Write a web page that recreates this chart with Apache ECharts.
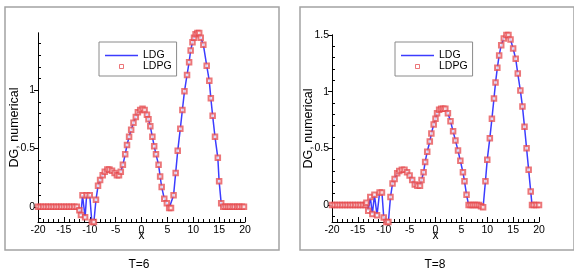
<!DOCTYPE html>
<html>
<head>
<meta charset="utf-8">
<script src="https://cdn.jsdelivr.net/npm/echarts@6/dist/echarts.min.js"></script>
<style>
  html, body { margin: 0; padding: 0; background: #fff; }
  #chart { width: 574px; height: 272px; }
</style>
</head>
<body>
<div id="chart"></div>
<script>
// T=6 panel, x positions and DG values (LDG line and LDPG squares lie on top of each other)
const xT6 = [-20, -19.5, -19, -18.5, -18, -17.5, -17, -16.5, -16, -15.5, -15, -14.5, -14, -13.5, -13, -12.5,
  -12.0, -11.7, -11.4, -10.9, -10.6, -10.0, -9.6, -9.2,
  -8.8, -8.4, -8.0, -7.5, -7.1, -6.6, -6.2, -5.7, -5.2, -4.75,
  -4.35, -4.0, -3.6, -3.15, -2.8, -2.4, -2.0, -1.55, -1.1, -0.7,
  -0.25, 0.2, 0.6, 1.05, 1.35, 1.7, 2.1, 2.45, 2.8, 3.3,
  3.6, 3.9, 4.4, 4.9, 5.35, 5.7, 6.2, 6.6, 7.0, 7.5,
  7.9, 8.3, 8.8, 9.2, 9.5, 9.85, 10.15, 10.45, 10.8, 11.15,
  11.45, 11.95, 12.6, 13.1, 13.4, 13.75, 14.2, 14.75, 15.0, 15.4,
  15.8, 16.25, 16.7, 17.1, 17.6, 18.0, 18.5, 18.9, 19.4, 19.8];
const yT6 = [0, 0, 0, 0, 0, 0, 0, 0, 0, 0, 0, 0, 0, 0, 0, 0,
  -0.03, -0.07, 0.10, -0.09, 0.10, 0.10, -0.13, -0.13,
  0.06, 0.18, 0.23, 0.27, 0.30, 0.32, 0.32, 0.31, 0.29, 0.27,
  0.27, 0.30, 0.36, 0.45, 0.53, 0.60, 0.66, 0.72, 0.77, 0.81,
  0.83, 0.84, 0.83, 0.79, 0.75, 0.69, 0.60, 0.52, 0.45, 0.36,
  0.26, 0.17, 0.07, 0.03, -0.01, -0.01, 0.10, 0.29, 0.48, 0.67,
  0.83, 0.99, 1.13, 1.24, 1.34, 1.41, 1.45, 1.48, 1.49, 1.49,
  1.45, 1.39, 1.21, 1.08, 0.93, 0.78, 0.60, 0.42, 0.22, 0.03,
  0, 0, 0, 0, 0, 0, 0, 0, 0, 0];

// T=8 panel
const xT8 = [-20, -19.5, -19, -18.5, -18, -17.5, -17, -16.5, -16, -15.5, -15, -14.5, -14, -13.5,
  -13.35, -13.0, -12.6, -12.2, -11.8, -11.3, -10.8, -10.35, -10.0, -9.5, -9.1,
  -8.7, -8.3, -7.9, -7.4, -7.0, -6.5, -6.0, -5.5, -5.0, -4.5,
  -4.0, -3.5, -3.0, -2.7, -2.3, -2.0, -1.6, -1.1, -0.8, -0.35,
  0.0, 0.3, 0.7, 1.1, 1.5, 1.9, 2.4, 2.9, 3.4, 3.85,
  4.35, 4.8, 5.3, 5.6, 6.0, 6.4, 6.8, 7.2, 7.6, 8.0,
  8.4, 8.8, 9.2, 9.65, 10.0, 10.5, 10.9, 11.3, 11.6, 11.95,
  12.3, 12.7, 13.2, 13.7, 14.1, 14.5, 15.0, 15.5, 15.9, 16.4,
  16.8, 17.2, 17.6, 18.0, 18.4, 18.65, 19.0, 19.5, 20];
const yT8 = [0, 0, 0, 0, 0, 0, 0, 0, 0, 0, 0, 0, 0, 0,
  0.02, -0.05, 0.07, -0.08, 0.09, -0.09, 0.11, 0.11, -0.11, -0.15, -0.15,
  0.07, 0.19, 0.23, 0.28, 0.30, 0.31, 0.31, 0.29, 0.26, 0.22,
  0.18, 0.17, 0.17, 0.22, 0.29, 0.38, 0.47, 0.56, 0.63, 0.71,
  0.76, 0.81, 0.84, 0.85, 0.85, 0.85, 0.81, 0.74, 0.65, 0.57,
  0.48, 0.39, 0.29, 0.21, 0.09, 0.0, 0, 0, 0, 0,
  0, -0.01, -0.02, 0.21, 0.40, 0.59, 0.76, 0.94, 1.08, 1.21,
  1.32, 1.41, 1.47, 1.50, 1.50, 1.46, 1.38, 1.29, 1.16, 1.01,
  0.87, 0.69, 0.50, 0.31, 0.12, 0.0, 0, 0, 0];

const titles = ['T=6', 'T=8'];
const seriesNames = ['LDG', 'LDPG'];
const majorY6 = [0, 0.5, 1];
const majorY8 = [0, 0.5, 1, 1.5];

const FONT = '"Liberation Sans", Arial, Helvetica, sans-serif';
const BLUE = '#3c3cff';
const RED = '#e5484c';

function pairs(xs, ys) {
  return xs.map((x, i) => [x, ys[i]]);
}
function minorList(lo, hi, majors) {
  const out = [];
  for (let k = Math.ceil(lo * 10); k <= Math.floor(hi * 10); k++) {
    const v = k / 10;
    if (!majors.some(m => Math.abs(m - v) < 1e-6)) out.push(v);
  }
  return out;
}

const panels = [
  {left: 38, top: 33, height: 189, ymin: -0.13, ymax: 1.49, majors: majorY6, data: pairs(xT6, yT6), lx: 99, frameX: 2.5, cx: 139},
  {left: 332, top: 35, height: 187, ymin: -0.15, ymax: 1.5, majors: majorY8, data: pairs(xT8, yT8), lx: 395, frameX: 297.5, cx: 435}
];

const grid = [], xAxis = [], yAxis = [], series = [], legend = [], graphic = [];
panels.forEach((p, i) => {
  grid.push({left: p.left, top: p.top, width: 207, height: p.height, containLabel: false});
  xAxis.push({
    type: 'value', gridIndex: i, min: -20, max: 20, interval: 5,
    name: 'x', nameLocation: 'middle', nameGap: 8, nameMoveOverlap: false,
    nameTextStyle: {fontFamily: FONT, fontSize: 12, color: '#000'},
    axisLine: {onZero: false, lineStyle: {color: '#000', width: 1}},
    axisTick: {inside: true, length: 5, lineStyle: {color: '#000'}},
    minorTick: {show: true, splitNumber: 5, length: 3, lineStyle: {color: '#000'}},
    axisLabel: {fontFamily: FONT, fontSize: 10.5, color: '#000', margin: 3},
    splitLine: {show: false}
  });
  // major ticks + labels
  yAxis.push({
    type: 'value', gridIndex: i, position: 'left', min: p.ymin, max: p.ymax,
    name: 'DG, numerical', nameLocation: 'middle', nameGap: 17, nameMoveOverlap: false,
    nameTextStyle: {fontFamily: FONT, fontSize: 12.5, color: '#000'},
    axisLine: {show: true, onZero: false, lineStyle: {color: '#000', width: 1}},
    axisTick: {show: true, inside: false, length: 4, customValues: p.majors, lineStyle: {color: '#000'}},
    axisLabel: {fontFamily: FONT, fontSize: 10.5, color: '#000', margin: 3, customValues: p.majors},
    splitLine: {show: false}
  });
  // minor ticks only (labels kept empty)
  const minors = minorList(p.ymin, p.ymax, p.majors);
  yAxis.push({
    type: 'value', gridIndex: i, position: 'left', offset: 0, min: p.ymin, max: p.ymax,
    axisLine: {show: true, onZero: false, lineStyle: {color: '#000', width: 1}},
    axisTick: {show: true, inside: true, length: 3, customValues: minors, lineStyle: {color: '#000'}},
    axisLabel: {show: true, customValues: minors, formatter: () => ''},
    splitLine: {show: false}
  });
  series.push({
    name: seriesNames[0], type: 'line', xAxisIndex: i, yAxisIndex: 2 * i,
    data: p.data, showSymbol: false, symbol: 'none',
    lineStyle: {color: BLUE, width: 1.5}, itemStyle: {color: BLUE},
    animation: false, z: 2
  });
  series.push({
    name: seriesNames[1], type: 'scatter', xAxisIndex: i, yAxisIndex: 2 * i,
    data: p.data, symbol: 'emptyRect', symbolSize: 4.5,
    itemStyle: {color: RED, borderColor: RED, borderWidth: 1, opacity: 0.75},
    animation: false, z: 3
  });
  legend.push({
    orient: 'vertical', left: p.lx, top: 42,
    data: [
      {name: seriesNames[0], icon: 'path://M0,0L22,0L22,1L0,1Z', itemStyle: {color: BLUE}},
      {name: seriesNames[1], icon: 'path://M0,0L10,0L10,10L0,10Z',
        itemStyle: {color: '#fff', borderColor: RED, borderWidth: 1}}
    ],
    padding: [8, 5, 4, 6], itemGap: 0, itemWidth: 33, itemHeight: 4,
    symbolKeepAspect: true,
    backgroundColor: '#fff', borderColor: '#8a8a8a', borderWidth: 1, borderRadius: 0,
    selectedMode: false,
    textStyle: {fontFamily: FONT, fontSize: 10.5, color: '#000', lineHeight: 10}
  });
  graphic.push({
    type: 'rect', left: p.frameX, top: 4.5, z: 0,
    shape: {width: 274, height: 243},
    style: {fill: 'none', stroke: '#a3a3a3', lineWidth: 1.5}
  });
  graphic.push({
    type: 'text', x: p.cx, y: 265, z: 10,
    style: {text: titles[i], font: '12px ' + FONT, fill: '#000', align: 'center', verticalAlign: 'middle'}
  });
});

const chart = echarts.init(document.getElementById('chart'), null, {renderer: 'canvas'});
chart.setOption({
  backgroundColor: '#fff',
  animation: false,
  grid, xAxis, yAxis, series, legend, graphic
});
</script>
</body>
</html>
